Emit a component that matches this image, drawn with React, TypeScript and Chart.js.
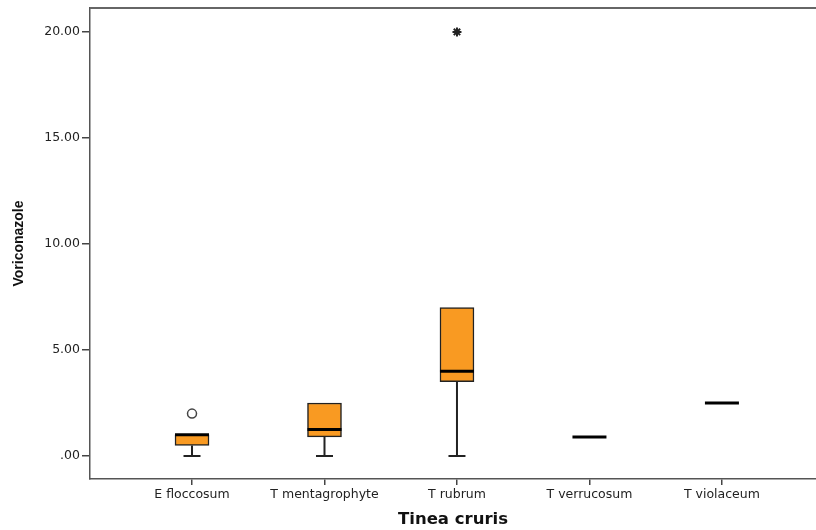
import React, { useEffect, useRef } from "react";
import { Chart, registerables } from "chart.js";

Chart.register(...registerables);

const categories = ["E floccosum", "T mentagrophyte", "T rubrum", "T verrucosum", "T violaceum"];
const mins = [0, 0, 0, 0.9, 2.5];
const q1s = [0.5, 0.9, 3.5, 0.9, 2.5];
const medians = [1.0, 1.25, 4.0, 0.9, 2.5];
const q3s = [1.0, 2.5, 7.0, 0.9, 2.5];
const maxs = [1.0, 2.5, 7.0, 0.9, 2.5];
const outlierCats = [1];
const outlierVals = [2.0];
const extremeCats = [3];
const extremeVals = [20.0];
const yTicks = [0, 5, 10, 15, 20];
const yTickLabels = [".00", "5.00", "10.00", "15.00", "20.00"];

const BOX_W = 34;
const CAP_W = 17;

const boxPlugin = {
  id: "boxExtras",
  afterDatasetsDraw(chart: any) {
    const { ctx, scales } = chart;
    const xs = scales.x;
    const ys = scales.y;
    ctx.save();
    categories.forEach((_, i) => {
      const cx = xs.getPixelForValue(i + 1);
      const yMin = ys.getPixelForValue(mins[i]);
      const yQ1 = ys.getPixelForValue(q1s[i]);
      const yQ3 = ys.getPixelForValue(q3s[i]);
      const yMax = ys.getPixelForValue(maxs[i]);
      const yMed = ys.getPixelForValue(medians[i]);
      ctx.strokeStyle = "#222";
      ctx.lineWidth = 2;
      if (mins[i] < q1s[i]) {
        ctx.beginPath();
        ctx.moveTo(cx, yQ1);
        ctx.lineTo(cx, yMin);
        ctx.moveTo(cx - CAP_W / 2, yMin);
        ctx.lineTo(cx + CAP_W / 2, yMin);
        ctx.stroke();
      }
      if (maxs[i] > q3s[i]) {
        ctx.beginPath();
        ctx.moveTo(cx, yQ3);
        ctx.lineTo(cx, yMax);
        ctx.moveTo(cx - CAP_W / 2, yMax);
        ctx.lineTo(cx + CAP_W / 2, yMax);
        ctx.stroke();
      }
      ctx.strokeStyle = "#000";
      ctx.lineWidth = 3;
      ctx.beginPath();
      ctx.moveTo(cx - BOX_W / 2, yMed);
      ctx.lineTo(cx + BOX_W / 2, yMed);
      ctx.stroke();
    });
    ctx.restore();
  },
  afterDraw(chart: any) {
    const { ctx, chartArea } = chart;
    ctx.save();
    ctx.strokeStyle = "#666";
    ctx.lineWidth = 2;
    ctx.beginPath();
    ctx.moveTo(chartArea.left, chartArea.top);
    ctx.lineTo(chart.width, chartArea.top);
    ctx.stroke();
    ctx.restore();
  },
};

export default function App() {
  const ref = useRef<HTMLCanvasElement>(null);
  useEffect(() => {
    if (!ref.current) return;
    const boxData = categories
      .map((_, i) => (q3s[i] > q1s[i] ? { x: i + 1, y: [q1s[i], q3s[i]] } : null))
      .filter((d) => d !== null);
    const chart = new Chart(ref.current, {
      type: "bar",
      data: {
        datasets: [
          {
            type: "bar",
            data: boxData as any,
            backgroundColor: "#F99A22",
            borderColor: "#222",
            borderWidth: 1.5,
            borderSkipped: false,
            barThickness: BOX_W,
          } as any,
          {
            type: "scatter",
            data: outlierCats.map((c, i) => ({ x: c, y: outlierVals[i] })),
            pointStyle: "circle",
            radius: 4.5,
            borderColor: "#444",
            borderWidth: 1.5,
            backgroundColor: "#fff",
          } as any,
          {
            type: "scatter",
            data: extremeCats.map((c, i) => ({ x: c, y: extremeVals[i] })),
            pointStyle: "star",
            radius: 4.5,
            borderColor: "#222",
            borderWidth: 2,
            backgroundColor: "#222",
          } as any,
        ],
      },
      options: {
        animation: false,
        responsive: false,
        devicePixelRatio: 1,
        layout: { autoPadding: false, padding: { top: 8, left: 0, right: 0, bottom: 0 } },
        plugins: { legend: { display: false }, tooltip: { enabled: false } },
        scales: {
          x: {
            type: "linear",
            offset: false,
            min: 0.23,
            max: 5.71,
            afterBuildTicks: (s: any) => {
              s.ticks = categories.map((_, i) => ({ value: i + 1 }));
            },
            afterFit: (s: any) => {
              s.height = 51;
              s.paddingLeft = 0;
              s.paddingRight = 0;
            },
            ticks: {
              callback: (v: any) => categories[Math.round(v) - 1] ?? "",
              font: { family: "DejaVu Sans", size: 12.5 },
              color: "#222",
              padding: 2,
              maxRotation: 0,
              autoSkip: false,
            },
            grid: { offset: false, drawOnChartArea: false, tickLength: 6, color: "#444", lineWidth: 1.5 },
            border: { display: true, color: "#555", width: 1.5 },
            title: {
              display: true,
              text: "Tinea cruris",
              font: { family: "DejaVu Sans", size: 16.5, weight: "bold" },
              color: "#111",
              padding: { top: 0, bottom: 0 },
            },
          },
          y: {
            type: "linear",
            min: -1.085,
            max: 21.13,
            afterBuildTicks: (s: any) => {
              s.ticks = yTicks.map((v) => ({ value: v }));
            },
            afterFit: (s: any) => {
              s.width = 90;
              s.paddingTop = 0;
              s.paddingBottom = 0;
            },
            ticks: {
              callback: (v: any) => yTickLabels[yTicks.indexOf(v)] ?? "",
              font: { family: "DejaVu Sans", size: 12.5 },
              color: "#222",
              padding: 2,
            },
            grid: { drawOnChartArea: false, tickLength: 8, color: "#444", lineWidth: 1.5 },
            border: { display: true, color: "#555", width: 1.5 },
            title: {
              display: true,
              text: "Voriconazole",
              font: { family: "Liberation Sans", size: 14, weight: "bold" },
              color: "#111",
              padding: { top: 11, bottom: 0 },
            },
          },
        },
      },
      plugins: [boxPlugin],
    });
    return () => chart.destroy();
  }, []);
  return (
    <div style={{ position: "absolute", left: 0, top: 0, width: 816, height: 530, background: "#fff" }}>
      <canvas ref={ref} width={816} height={530} style={{ display: "block" }} />
    </div>
  );
}
